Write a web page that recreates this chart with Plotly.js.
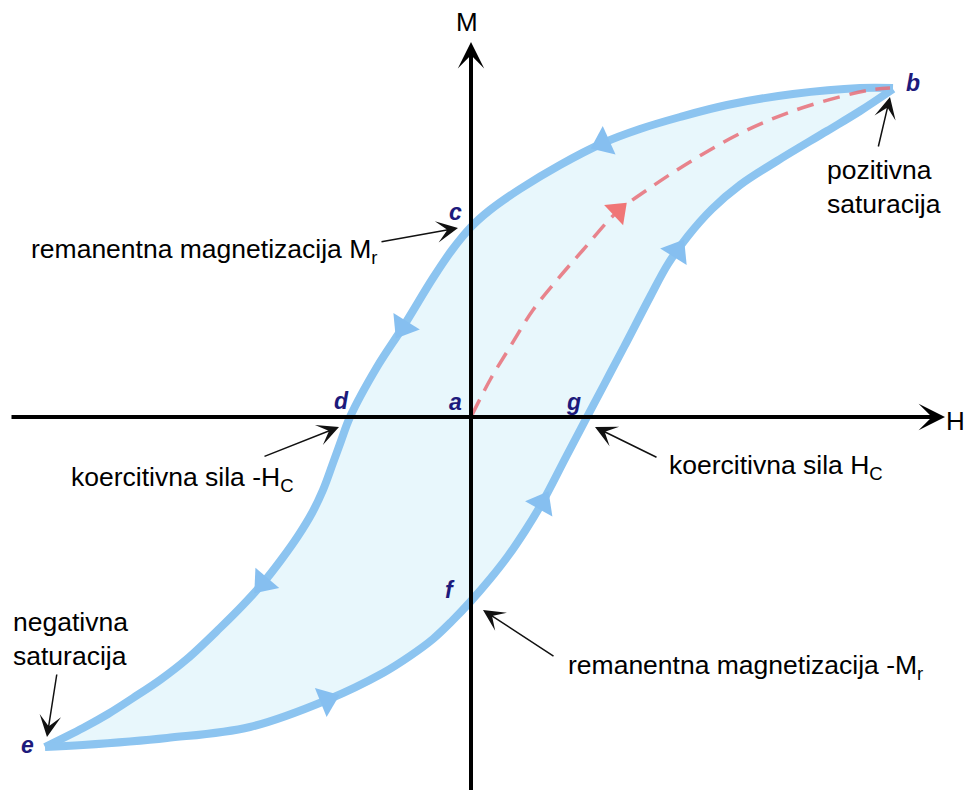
<!DOCTYPE html>
<html>
<head>
<meta charset="utf-8">
<script src="https://cdn.plot.ly/plotly-3.0.1.min.js"></script>
<style>
html, body { margin: 0; padding: 0; background: #fff; }
#chart { width: 964px; height: 790px; }
</style>
</head>
<body>
<div id="chart"></div>
<script>
// Petlja histereze, H vodoravno, M okomito (ishodiste u tocki a)

// silazna grana b -> c -> d -> e
var silazH = [422, 389, 322, 256, 209, 169, 132, 89, 49, 19, 0, -19, -38, -68, -94, -121, -130, -138, -148, -159, -173, -190, -208, -228, -251, -284, -311, -338, -363, -388, -426];
var silazM = [329, 329, 323, 312, 300, 288, 274, 252, 228, 207, 190, 167, 139, 90, 50, 0, -24, -46, -73, -96, -119, -143, -166, -188, -211, -242, -263, -281, -297, -311, -330];

// uzlazna grana e -> f -> g -> b
var uzlazH = [-426, -388, -304, -221, -144, -88, -61, -38, -19, 0, 19, 37, 54, 71, 95, 116, 134, 153, 179, 197, 217, 241, 269, 306, 356, 389, 422];
var uzlazM = [-330, -328, -321, -310, -283, -256, -239, -222, -204, -184, -162, -139, -114, -86, -40, 0, 34, 70, 120, 153, 181, 208, 232, 256, 286, 306, 328];

// krivulja prvog magnetiziranja a -> b
var prvaH = [1, 19, 39, 62, 86, 112, 145, 176, 222, 272, 322, 372, 399, 419];
var prvaM = [2, 37, 70, 107, 137, 167, 204, 227, 257, 285, 306, 321, 327, 329];

// strelice smjera na petlji
var strelSilazH = [132, -68, -208];
var strelSilazM = [274, 90, -166];
var strelUzlazH = [-144, 71, 206];
var strelUzlazM = [-283, -86, 166];
var strelPrvaH = [147];
var strelPrvaM = [206];

// oznake tocaka
var tockeTekst = ['b', 'c', 'd', 'a', 'g', 'f', 'e'];
var tockeH = [442, -16, -130, -16, 102, -21, -444];
var tockeM = [334, 205, 16, 15, 15, -173, -328];

// opisi i pokazivaci (vrh strelice, pocetak)
var opisTekst = ['remanentna magnetizacija M<sub>r</sub>', 'koercitivna sila -H<sub>C</sub>',
  'negativna<br>saturacija', 'pozitivna<br>saturacija',
  'koercitivna sila H<sub>C</sub>', 'remanentna magnetizacija -M<sub>r</sub>'];
var opisH = [-442, -402, -460, 354, 196, 95];
var opisM = [166, -62, -222, 230, -50, -250];
var pokVrhH = [-13, -132, -424, 419, 124, 12];
var pokVrhM = [189, -10, -320, 320, -10, -193];
var pokRepH = [-91, -208, -414, 407, 187, 84];
var pokRepM = [175, -40, -256, 269, -41, -240];

var plava = '#8cc4f0';

function kutovi(gH, gM, sH, sM) {
  var out = [];
  for (var i = 0; i < sH.length; i++) {
    var k = 0, best = 1e9;
    for (var j = 0; j < gH.length; j++) {
      var d = Math.pow(gH[j] - sH[i], 2) + Math.pow(gM[j] - sM[i], 2);
      if (d < best) { best = d; k = j; }
    }
    var a = Math.max(k - 1, 0), b = Math.min(k + 1, gH.length - 1);
    out.push(Math.atan2(gH[b] - gH[a], gM[b] - gM[a]) * 180 / Math.PI);
  }
  return out;
}

var data = [
  {
    x: silazH.concat(uzlazH), y: silazM.concat(uzlazM),
    mode: 'lines', fill: 'toself', fillcolor: '#e8f7fc',
    line: { width: 0 }, hoverinfo: 'skip'
  },
  {
    x: silazH, y: silazM, mode: 'lines',
    line: { color: plava, width: 8, shape: 'spline', smoothing: 1 }
  },
  {
    x: uzlazH, y: uzlazM, mode: 'lines',
    line: { color: plava, width: 8, shape: 'spline', smoothing: 1 }
  },
  {
    x: prvaH, y: prvaM, mode: 'lines',
    line: { color: 'rgba(232,110,120,0.85)', width: 3.5, dash: '17px,10px', shape: 'spline' }
  },
  {
    x: strelSilazH.concat(strelUzlazH), y: strelSilazM.concat(strelUzlazM), mode: 'markers',
    marker: {
      symbol: 'triangle-up', size: 27, color: '#86bff0',
      angle: kutovi(silazH, silazM, strelSilazH, strelSilazM).concat(kutovi(uzlazH, uzlazM, strelUzlazH, strelUzlazM))
    }
  },
  {
    x: strelPrvaH, y: strelPrvaM, mode: 'markers',
    marker: { symbol: 'triangle-up', size: 24, color: '#f07676', angle: kutovi(prvaH, prvaM, strelPrvaH, strelPrvaM) }
  }
];

var annotations = [];

// osi H i M
annotations.push({ x: 474, y: 0, ax: -461, ay: 0, xref: 'x', yref: 'y', axref: 'x', ayref: 'y',
  text: '', showarrow: true, arrowhead: 3, arrowsize: 1.1, arrowwidth: 4, arrowcolor: '#000', standoff: 0 });
annotations.push({ x: 0, y: 375, ax: 0, ay: -380, xref: 'x', yref: 'y', axref: 'x', ayref: 'y',
  text: '', showarrow: true, arrowhead: 3, arrowsize: 1.1, arrowwidth: 4, arrowcolor: '#000', standoff: 0 });
annotations.push({ x: 484, y: -4, text: 'H', showarrow: false, font: { family: 'Liberation Sans', size: 26, color: '#000' } });
annotations.push({ x: -4, y: 395, text: 'M', showarrow: false, font: { family: 'Liberation Sans', size: 26, color: '#000' } });

tockeTekst.forEach(function (t, i) {
  annotations.push({ x: tockeH[i], y: tockeM[i], text: '<b><i>' + t + '</i></b>', showarrow: false,
    font: { family: 'Liberation Sans', size: 23, color: '#1d1a7c' } });
});

opisTekst.forEach(function (t, i) {
  annotations.push({ x: opisH[i], y: opisM[i], text: t, showarrow: false, xanchor: 'left', align: 'left',
    font: { family: 'Liberation Sans', size: 26.5, color: '#000' } });
  annotations.push({ x: pokVrhH[i], y: pokVrhM[i], ax: pokRepH[i], ay: pokRepM[i],
    xref: 'x', yref: 'y', axref: 'x', ayref: 'y', text: '', showarrow: true,
    arrowhead: 3, arrowsize: 2.4, arrowwidth: 1.5, arrowcolor: '#111', standoff: 0 });
});

var layout = {
  width: 964, height: 790,
  margin: { l: 0, r: 0, t: 0, b: 0 },
  paper_bgcolor: '#fff', plot_bgcolor: '#fff',
  showlegend: false,
  xaxis: { range: [-471, 493], visible: false, fixedrange: true },
  yaxis: { range: [-373, 417], visible: false, fixedrange: true },
  annotations: annotations
};

Plotly.newPlot('chart', data, layout, { staticPlot: true });
</script>
</body>
</html>
